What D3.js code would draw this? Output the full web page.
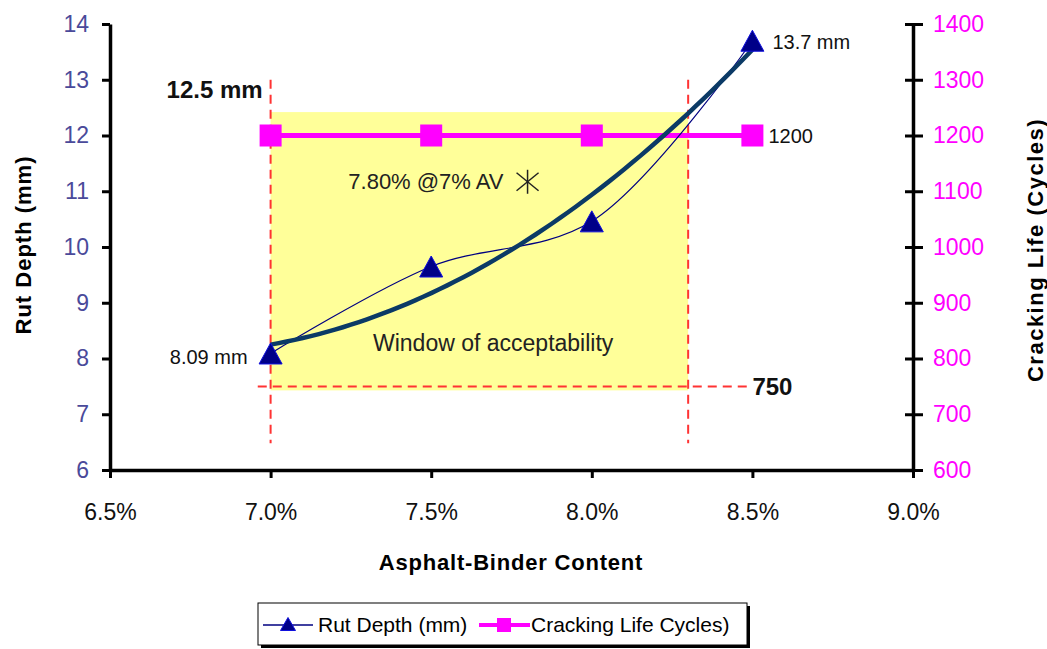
<!DOCTYPE html>
<html>
<head>
<meta charset="utf-8">
<script src="https://cdn.jsdelivr.net/npm/d3@7"></script>
<style>
  html, body { margin: 0; padding: 0; background: #fff; }
  svg { display: block; font-family: "Liberation Sans", Arial, sans-serif; }
</style>
</head>
<body>
<svg id="chart" width="1047" height="649"></svg>
<script>
// Asphalt-binder content (fraction) for each mix tested
const binderContent = [0.070, 0.075, 0.080, 0.085];
// Measured rut depth, mm (left axis)
const rutDepth = [8.09, 9.65, 10.46, 13.7];
// Cracking life, cycles (right axis)
const crackingLife = [1200, 1200, 1200, 1200];

const xTicks = [0.065, 0.070, 0.075, 0.080, 0.085, 0.090];
const yLeftTicks = [6, 7, 8, 9, 10, 11, 12, 13, 14];
const yRightTicks = [600, 700, 800, 900, 1000, 1100, 1200, 1300, 1400];

// Window of acceptability: binder range and limits
const windowBinder = [0.070, 0.083];
const rutLimit = 12.42;        // top edge of the shaded window, mm
const crackLimit = 750;        // bottom edge of the shaded window, cycles
// Optimum binder point
const optimum = { binder: 0.078, rut: 11.17, label: "7.80% @7% AV" };

const svg = d3.select("#chart");

const x = d3.scaleLinear().domain([0.065, 0.090]).range([110, 913]);
const yL = d3.scaleLinear().domain([6, 14]).range([470, 24]);
const yR = d3.scaleLinear().domain([600, 1400]).range([470, 24]);

// shaded window
svg.append("rect")
  .attr("x", x(windowBinder[0]))
  .attr("y", yL(rutLimit))
  .attr("width", x(windowBinder[1]) - x(windowBinder[0]))
  .attr("height", yR(crackLimit) - yL(rutLimit) + 4)
  .attr("fill", "#FFFF99");

// red dashed guide lines
const dash = { stroke: "#FF3333", "stroke-width": 2, "stroke-dasharray": "9,6" };
function guide(x1, y1, x2, y2) {
  const l = svg.append("line").attr("x1", x1).attr("y1", y1).attr("x2", x2).attr("y2", y2);
  Object.entries(dash).forEach(([k, v]) => l.attr(k, v));
}
windowBinder.forEach(b => guide(x(b), yL(13.0), x(b), yL(6.48)));
guide(x(0.0696), yR(crackLimit), x(0.085), yR(crackLimit));

// cracking life series
svg.append("path")
  .datum(binderContent.map((b, i) => [b, crackingLife[i]]))
  .attr("fill", "none")
  .attr("stroke", "#FF00FF")
  .attr("stroke-width", 5)
  .attr("d", d3.line().x(d => x(d[0])).y(d => yR(d[1])));
svg.selectAll("rect.sq")
  .data(binderContent.map((b, i) => [b, crackingLife[i]]))
  .join("rect").attr("class", "sq")
  .attr("x", d => x(d[0]) - 11).attr("y", d => yR(d[1]) - 11)
  .attr("width", 22).attr("height", 22)
  .attr("fill", "#FF00FF");

// rut depth: smoothed series line
const rutPts = binderContent.map((b, i) => [b, rutDepth[i]]);
svg.append("path")
  .datum(rutPts)
  .attr("fill", "none")
  .attr("stroke", "#000080")
  .attr("stroke-width", 1.2)
  .attr("d", d3.line().x(d => x(d[0])).y(d => yL(d[1])).curve(d3.curveCatmullRom.alpha(0.5)));

// rut depth: second-order polynomial trendline (least squares)
function quadFit(xs, ys) {
  const n = xs.length;
  const mx = d3.mean(xs);
  const t = xs.map(v => v - mx);
  const s2 = d3.sum(t, v => v * v), s3 = d3.sum(t, v => v ** 3), s4 = d3.sum(t, v => v ** 4);
  const sy = d3.sum(ys), sty = d3.sum(t, (v, i) => v * ys[i]), st2y = d3.sum(t, (v, i) => v * v * ys[i]);
  // solve [[n,0,s2],[0,s2,s3],[s2,s3,s4]] * [a,b,c] = [sy,sty,st2y]
  const M = [[n, 0, s2, sy], [0, s2, s3, sty], [s2, s3, s4, st2y]];
  for (let i = 0; i < 3; i++) {
    for (let j = i + 1; j < 3; j++) {
      const f = M[j][i] / M[i][i];
      for (let k = i; k < 4; k++) M[j][k] -= f * M[i][k];
    }
  }
  const c = M[2][3] / M[2][2];
  const b = (M[1][3] - M[1][2] * c) / M[1][1];
  const a = (M[0][3] - M[0][2] * c - M[0][1] * b) / M[0][0];
  return v => { const d = v - mx; return a + b * d + c * d * d; };
}
const trend = quadFit(binderContent, rutDepth);
const trendPts = d3.range(0, 61).map(i => {
  const b = binderContent[0] + (binderContent[3] - binderContent[0]) * i / 60;
  return [b, trend(b)];
});
svg.append("path")
  .datum(trendPts)
  .attr("fill", "none")
  .attr("stroke", "#0B3A66")
  .attr("stroke-width", 4.5)
  .attr("stroke-linejoin", "round")
  .attr("d", d3.line().x(d => x(d[0])).y(d => yL(d[1])));

// triangle markers
const tri = (w, h) => `M0,${-h / 2}L${w / 2},${h / 2}L${-w / 2},${h / 2}Z`;
svg.selectAll("path.tri")
  .data(rutPts)
  .join("path").attr("class", "tri")
  .attr("transform", d => `translate(${x(d[0])},${yL(d[1])})`)
  .attr("d", tri(23, 21))
  .attr("fill", "#000088")
  .attr("stroke", "#1010DD")
  .attr("stroke-width", 1);

// optimum asterisk marker
const ox = x(optimum.binder), oy = yL(optimum.rut);
const ast = svg.append("g").attr("transform", `translate(${ox},${oy})`)
  .attr("stroke", "#222").attr("stroke-width", 1.5);
ast.append("line").attr("x1", 0).attr("y1", -12).attr("x2", 0).attr("y2", 12);
ast.append("line").attr("x1", -11).attr("y1", -9).attr("x2", 11).attr("y2", 9);
ast.append("line").attr("x1", -11).attr("y1", 9).attr("x2", 11).attr("y2", -9);

// axes
function styleAxis(g, color, size) {
  g.select(".domain").attr("stroke", "#000").attr("stroke-width", 3.5);
  g.selectAll(".tick line").attr("stroke", "#000").attr("stroke-width", 3);
  g.selectAll(".tick text").attr("fill", color).attr("font-size", size)
    .attr("font-family", "'Liberation Sans', Arial, sans-serif");
}
const gx = svg.append("g").attr("transform", "translate(0,470)")
  .call(d3.axisBottom(x).tickValues(xTicks).tickFormat(d3.format(".1%")).tickSize(8).tickSizeOuter(0).tickPadding(26));
styleAxis(gx, "#111", 23);

const gl = svg.append("g").attr("transform", "translate(110,0)")
  .call(d3.axisLeft(yL).tickValues(yLeftTicks).tickSize(8).tickSizeOuter(0).tickPadding(13));
styleAxis(gl, "#4A4A9A", 23);

const gr = svg.append("g").attr("transform", "translate(913,0)")
  .call(d3.axisRight(yR).tickValues(yRightTicks).tickFormat(d3.format("d")).tickSize(10).tickSizeOuter(0).tickPadding(10));
styleAxis(gr, "#FF00FF", 23);
gr.selectAll(".tick line").attr("x1", -8);

// axis titles
svg.append("text")
  .attr("x", 511).attr("y", 570)
  .attr("text-anchor", "middle")
  .attr("font-weight", "bold").attr("font-size", 22).attr("letter-spacing", 0.8)
  .text("Asphalt-Binder Content");
svg.append("text")
  .attr("transform", "translate(31,245) rotate(-90)")
  .attr("text-anchor", "middle")
  .attr("font-weight", "bold").attr("font-size", 22).attr("letter-spacing", 1)
  .text("Rut Depth (mm)");
svg.append("text")
  .attr("transform", "translate(1043,250) rotate(-90)")
  .attr("text-anchor", "middle")
  .attr("font-weight", "bold").attr("font-size", 22).attr("letter-spacing", 1.5)
  .text("Cracking Life (Cycles)");

// annotations
function label(txt, xp, yp, opts = {}) {
  return svg.append("text")
    .attr("x", xp).attr("y", yp).attr("dy", "0.35em")
    .attr("text-anchor", opts.anchor || "start")
    .attr("font-size", opts.size || 20)
    .attr("font-weight", opts.weight || "normal")
    .attr("fill", opts.color || "#111")
    .text(txt);
}
label("12.5 mm", x(windowBinder[0]) - 8, 90, { anchor: "end", size: 24, weight: "bold" });
label(crackLimit, x(0.085), yR(crackLimit), { size: 24, weight: "bold" });
label(rutDepth[3] + " mm", x(binderContent[3]) + 20, yL(rutDepth[3]) + 1);
label(crackingLife[3], x(binderContent[3]) + 16, yR(crackingLife[3]));
label(rutDepth[0] + " mm", x(binderContent[0]) - 23, yL(rutDepth[0]) + 4, { anchor: "end" });
label("Window of acceptability", 373, 343, { size: 23, color: "#222" });
label(optimum.label, ox - 24, oy, { anchor: "end", size: 22, color: "#222" });

// legend
const lg = svg.append("g");
lg.append("rect").attr("x", 261).attr("y", 606).attr("width", 489).attr("height", 42).attr("fill", "#000");
lg.append("rect").attr("x", 258).attr("y", 603).attr("width", 489).attr("height", 42)
  .attr("fill", "#fff").attr("stroke", "#000").attr("stroke-width", 1);
lg.append("line").attr("x1", 263).attr("x2", 313).attr("y1", 625).attr("y2", 625)
  .attr("stroke", "#000080").attr("stroke-width", 1.5);
lg.append("path").attr("transform", "translate(288,624)").attr("d", tri(15, 13))
  .attr("fill", "#000088").attr("stroke", "#1010DD");
lg.append("text").attr("x", 318).attr("y", 625).attr("dy", "0.35em").attr("font-size", 21).text("Rut Depth (mm)");
lg.append("line").attr("x1", 479).attr("x2", 530).attr("y1", 625).attr("y2", 625)
  .attr("stroke", "#FF00FF").attr("stroke-width", 4);
lg.append("rect").attr("x", 497).attr("y", 618).attr("width", 14).attr("height", 14).attr("fill", "#FF00FF");
lg.append("text").attr("x", 531).attr("y", 625).attr("dy", "0.35em").attr("font-size", 21).text("Cracking Life Cycles)");
</script>
</body>
</html>
